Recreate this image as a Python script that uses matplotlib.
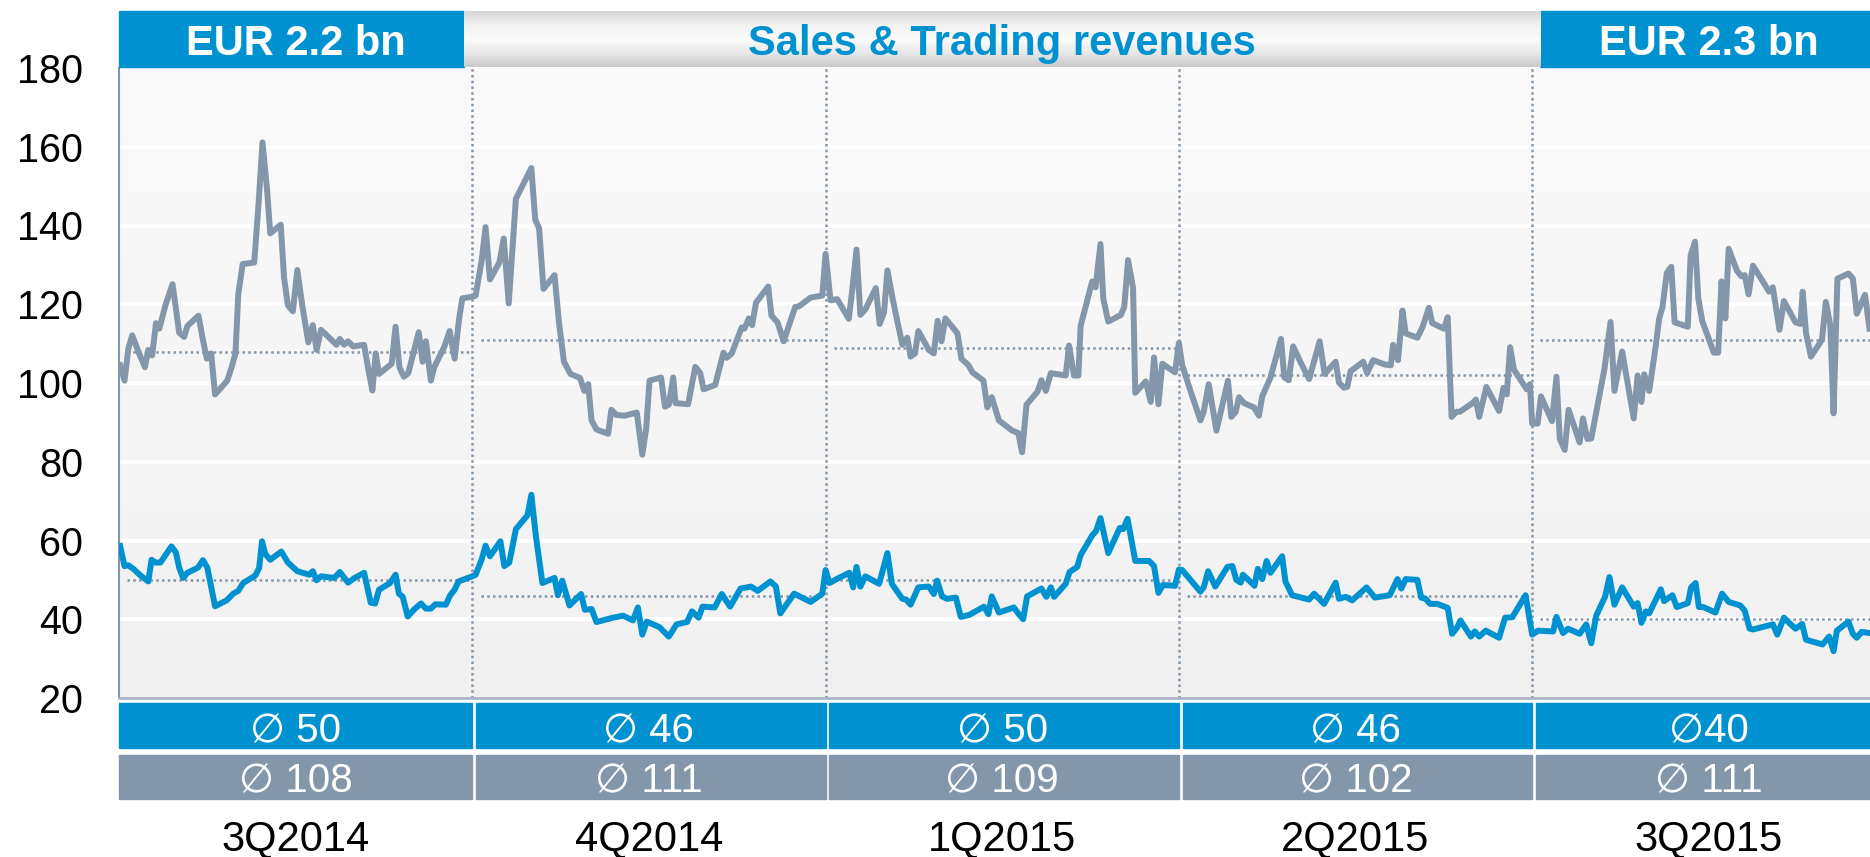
import numpy as np
import matplotlib
matplotlib.use('Agg')
import matplotlib.pyplot as plt
from matplotlib.patches import Rectangle
from matplotlib.transforms import blended_transform_factory
from matplotlib.colors import LinearSegmentedColormap

plt.rcParams['font.family'] = ['Liberation Sans', 'DejaVu Sans']

# quarters shown, with the quarterly averages
quarters = ['3Q2014', '4Q2014', '1Q2015', '2Q2015', '3Q2015']
blue_avg = [50, 46, 50, 46, 40]
grey_avg = [108, 111, 109, 102, 111]
blue_labels = ['\u2205 50', '\u2205 46', '\u2205 50', '\u2205 46', '\u220540']
grey_labels = ['\u2205 108', '\u2205 111', '\u2205 109', '\u2205 102', '\u2205 111']
banner_left = 'EUR 2.2 bn'
banner_mid = 'Sales & Trading revenues'
banner_right = 'EUR 2.3 bn'

# daily values, day = trading day inside the quarter (64 per quarter)
grey_q1_day = [0.2, 1.0, 1.7, 2.4, 3.5, 4.7, 5.3, 6.0, 6.7, 7.3, 8.4, 9.7, 10.9, 11.8, 12.4, 14.4, 15.2, 15.9, 16.7, 17.4,
               18.5, 19.6, 20.4, 21.1, 21.6, 22.4, 24.5, 25.3, 26.0, 26.8, 27.4, 29.3, 29.9, 30.6, 31.5, 32.3, 33.2, 34.3,
               35.1, 35.8, 36.6, 37.8, 39.4, 40.0, 40.8, 41.5, 42.4, 44.4, 45.2, 45.9, 46.5, 47.1, 47.9, 49.4, 50.1, 50.8,
               51.6, 52.4, 54.3, 55.0, 55.6, 56.5, 57.1, 58.9, 59.9, 60.8, 61.6, 62.2]
grey_q1_val = [104.5, 100.6, 108.8, 112.1, 108.0, 104.0, 108.4, 107.0, 115.2, 113.8, 119.7, 125.1, 112.8, 111.7, 114.5,
               117.1, 111.0, 106.2, 107.5, 97.1, 98.8, 100.6, 104.0, 107.5, 122.4, 130.2, 130.6, 145.9, 161.1, 149.4,
               138.0, 140.2, 126.7, 119.7, 118.2, 128.7, 119.7, 110.3, 114.7, 108.4, 113.5, 111.9, 109.7, 111.2, 109.7,
               110.6, 109.3, 109.7, 103.2, 98.1, 107.5, 102.3, 103.2, 104.9, 114.3, 104.0, 101.6, 102.5, 112.9, 105.4,
               110.6, 100.6, 104.0, 109.1, 113.2, 106.2, 116.2, 121.5]
grey_q2_day = [0, 0.6, 1.7, 2.4, 3.2, 4.9, 5.7, 6.6, 7.9, 10.7, 11.4, 12.1, 12.9, 14.9, 15.7, 16.6, 17.8, 19.5, 20.3, 21.0,
               21.6, 22.5, 24.6, 25.2, 26.1, 27.6, 29.8, 30.8, 31.5, 32.1, 34.2, 34.9, 35.6, 36.4, 36.8, 39.1, 40.4, 41.3,
               41.9, 44.0, 45.5, 46.1, 47.0, 48.8, 49.3, 50.1, 50.7, 51.4, 53.6, 54.2, 55.3, 56.4, 58.5, 59.2, 61.3, 63.4]
grey_q2_val = [121.9, 122.2, 131.1, 139.6, 126.3, 130.6, 136.7, 120.2, 146.8, 154.6, 141.5, 139.3, 123.9, 127.4, 115.4,
               105.4, 102.3, 101.3, 98.0, 99.7, 90.5, 88.2, 87.1, 93.2, 91.9, 91.7, 92.5, 81.8, 88.4, 100.6, 101.4, 94.0,
               94.5, 101.4, 94.9, 94.6, 104.1, 102.5, 98.4, 99.5, 107.7, 106.4, 107.5, 114.1, 113.8, 116.4, 114.7, 120.4,
               124.5, 117.1, 115.4, 110.6, 119.3, 119.5, 121.7, 122.2]
grey_q3_day = [0, 0.9, 2.1, 4.2, 4.8, 5.6, 6.3, 7.2, 9.1, 9.8, 10.6, 11.2, 12.2, 13.9, 14.8, 15.4, 16.2, 16.8, 18.7, 19.6,
               20.3, 21.0, 21.7, 23.9, 24.6, 25.9, 26.6, 28.6, 29.3, 30.1, 31.4, 33.8, 34.9, 35.6, 36.4, 38.4, 39.1, 39.9,
               40.8, 43.5, 44.1, 45.0, 45.8, 46.2, 48.3, 48.9, 49.8, 50.3, 51.2, 53.5, 54.1, 54.8, 55.7, 56.1, 58.0, 58.9,
               59.5, 60.3, 61.0, 63.3]
grey_q3_val = [132.8, 121.0, 121.3, 116.3, 123.2, 133.9, 117.3, 118.7, 124.1, 115.0, 118.0, 128.6, 121.0, 109.7, 111.5,
               106.7, 107.5, 113.2, 108.4, 107.5, 115.8, 110.6, 116.4, 112.6, 106.2, 104.5, 102.7, 100.6, 93.8, 96.4,
               90.5, 87.9, 87.3, 82.4, 94.5, 97.8, 100.7, 98.0, 102.5, 101.9, 109.5, 101.9, 101.9, 114.5, 125.8, 124.3,
               135.3, 121.5, 115.6, 117.3, 119.3, 131.2, 124.1, 97.5, 100.4, 95.2, 106.5, 94.6, 104.9, 102.7]
grey_q4_day = [0, 0.6, 2.1, 3.9, 4.5, 5.4, 6.8, 8.9, 9.5, 10.3, 10.9, 11.8, 13.6, 14.5, 15.1, 16.6, 18.5, 19.1, 19.9, 20.7,
               22.0, 23.6, 25.5, 26.4, 28.4, 29.0, 29.9, 30.5, 31.1, 33.4, 34.1, 35.2, 37.3, 38.4, 38.8, 39.7, 40.5, 41.1,
               43.2, 44.1, 45.3, 45.9, 48.0, 48.7, 49.4, 50.3, 50.9, 53.2, 53.8, 54.4, 55.7, 58.0, 58.8, 59.4, 60.0, 60.7,
               63.0, 63.6]
grey_q4_val = [110.2, 104.5, 98.0, 90.5, 92.7, 99.7, 87.9, 100.6, 91.4, 92.7, 96.4, 94.9, 93.8, 91.7, 96.6, 101.4, 111.2,
               101.4, 100.7, 109.3, 105.4, 101.0, 110.6, 102.3, 105.4, 100.1, 98.8, 99.0, 103.0, 105.4, 102.5, 105.8,
               104.7, 104.5, 109.7, 105.8, 118.4, 112.6, 111.5, 114.1, 119.1, 115.2, 113.8, 116.7, 91.4, 92.7, 92.7, 94.9,
               95.8, 91.4, 99.0, 92.9, 98.8, 97.1, 109.1, 103.4, 98.4, 99.7]
grey_q5_day = [0, 1.0, 1.6, 3.6, 4.4, 5.0, 5.9, 6.6, 8.6, 9.2, 10.0, 10.7, 13.1, 14.2, 14.9, 16.3, 18.4, 19.1, 19.8, 20.3,
               21.2, 22.4, 23.0, 23.6, 24.4, 25.2, 25.8, 28.2, 28.7, 29.5, 30.1, 30.8, 32.9, 33.7, 34.3, 35.0, 35.6, 37.1,
               37.9, 38.5, 39.2, 40.0, 42.1, 42.9, 43.6, 44.8, 45.6, 47.7, 48.6, 49.0, 49.6, 50.5, 52.5, 53.2, 54.0, 54.6,
               55.3, 57.3, 58.1, 58.8, 60.3, 61.1]
grey_q5_val = [89.7, 89.7, 96.6, 90.3, 101.6, 85.8, 83.0, 93.2, 84.9, 91.0, 85.8, 85.9, 103.6, 115.5, 98.0, 108.0, 91.0,
               101.9, 95.2, 102.2, 98.0, 109.5, 116.3, 119.3, 128.0, 129.5, 115.4, 114.3, 132.4, 135.9, 121.5, 115.8,
               107.7, 107.7, 125.8, 116.4, 134.1, 128.5, 127.1, 127.4, 122.5, 129.8, 125.1, 123.2, 124.3, 113.5, 120.8,
               115.4, 115.0, 123.2, 112.8, 106.7, 111.0, 120.6, 114.7, 92.3, 126.5, 127.8, 126.5, 117.6, 122.4, 113.8]

blue_q1_day = [0.2, 1.0, 1.7, 2.6, 3.9, 5.3, 5.9, 6.6, 7.5, 9.5, 10.3, 10.9, 11.6, 12.4, 14.3, 15.2, 16.0, 17.4, 19.5, 20.7,
               21.6, 22.5, 24.7, 25.4, 25.9, 26.5, 27.4, 29.4, 30.6, 32.3, 34.5, 35.1, 35.8, 36.6, 39.0, 40.0, 41.5, 42.7,
               44.4, 45.6, 46.4, 47.1, 49.1, 50.1, 50.7, 51.4, 52.3, 53.4, 54.7, 55.6, 56.5, 57.3, 59.2, 60.0, 60.8, 61.5]
blue_q1_val = [58.6, 53.5, 53.7, 52.8, 51.1, 49.6, 55.1, 54.4, 54.4, 58.5, 57.0, 53.1, 50.5, 51.8, 53.1, 55.0, 53.1, 43.3,
               44.8, 46.5, 47.2, 49.2, 51.1, 53.1, 59.8, 56.6, 55.1, 57.2, 54.4, 52.2, 51.3, 52.2, 49.9, 50.9, 50.5, 52.0,
               49.3, 50.5, 51.8, 44.2, 44.0, 47.5, 49.2, 51.3, 46.5, 45.7, 40.7, 42.4, 44.0, 42.7, 42.7, 43.8, 43.7, 46.1,
               47.5, 49.6]
blue_q2_day = [0, 0.6, 1.7, 2.4, 3.2, 5.1, 5.8, 6.7, 7.9, 10.0, 10.7, 11.5, 12.7, 14.9, 15.5, 16.3, 17.6, 19.7, 20.4, 21.6,
               22.5, 25.5, 27.3, 29.1, 30.0, 30.8, 31.6, 33.9, 35.6, 37.0, 38.9, 39.8, 41.0, 41.7, 43.9, 45.2, 46.7, 48.6,
               50.5, 51.7, 54.0, 55.0, 55.8, 58.3, 61.3, 63.4]
blue_q2_val = [50.9, 51.3, 55.2, 58.7, 56.0, 59.8, 53.5, 54.4, 62.9, 66.4, 71.6, 61.3, 49.2, 50.5, 46.1, 49.8, 43.5, 46.4,
               42.4, 42.6, 39.3, 40.4, 40.9, 39.7, 43.0, 36.1, 39.4, 38.0, 35.6, 38.7, 39.3, 42.0, 40.4, 43.2, 43.0, 46.4,
               43.2, 47.8, 48.3, 47.2, 49.6, 48.3, 41.5, 46.5, 44.4, 46.5]
blue_q3_day = [0, 0.7, 2.4, 4.3, 5.0, 5.6, 6.3, 7.2, 9.7, 11.2, 12.0, 13.9, 14.6, 15.4, 16.8, 18.7, 19.6, 20.2, 21.1, 22.0,
               23.6, 24.5, 26.0, 28.7, 29.5, 30.1, 31.4, 34.1, 35.0, 35.8, 36.5, 39.1, 40.0, 40.8, 41.4, 43.5, 44.2, 45.6,
               46.2, 48.3, 49.0, 49.8, 51.2, 53.3, 53.9, 54.7, 56.1, 58.6, 59.5, 60.3, 61.1, 63.3]
blue_q3_val = [52.5, 49.2, 50.5, 51.8, 48.1, 53.3, 48.3, 50.9, 49.0, 56.8, 49.0, 45.2, 45.0, 43.7, 48.1, 48.3, 46.4, 49.8,
               45.8, 45.2, 45.5, 40.6, 41.1, 43.2, 41.3, 45.8, 41.7, 43.0, 41.3, 40.0, 45.8, 47.8, 45.7, 48.1, 45.7, 49.0,
               52.0, 53.3, 56.3, 61.3, 62.4, 65.7, 56.8, 63.2, 62.9, 65.5, 54.8, 54.8, 53.5, 46.7, 48.7, 48.5]
blue_q4_day = [0, 0.6, 3.9, 4.5, 5.3, 6.6, 8.8, 9.7, 10.4, 11.2, 11.6, 13.7, 14.3, 15.1, 15.9, 16.6, 18.7, 19.3, 20.5, 23.6,
               24.5, 26.3, 28.4, 29.0, 30.2, 31.4, 34.0, 35.5, 38.2, 39.6, 40.3, 41.1, 43.2, 43.9, 44.7, 45.5, 46.8, 48.7,
               49.5, 50.4, 51.0, 52.9, 53.6, 54.4, 55.6, 58.0, 59.1, 60.4, 62.8]
blue_q4_val = [52.6, 52.5, 47.0, 48.1, 52.2, 48.3, 53.3, 53.5, 50.0, 49.3, 51.3, 48.5, 52.8, 50.2, 54.8, 51.8, 56.0, 49.6,
               46.1, 45.0, 46.5, 43.9, 49.3, 45.2, 45.7, 44.8, 48.1, 45.5, 46.1, 50.2, 47.8, 50.2, 50.0, 45.5, 45.2, 43.9,
               43.9, 42.9, 36.3, 37.9, 39.7, 35.6, 36.9, 35.6, 37.1, 35.3, 40.4, 40.5, 46.1]
blue_q5_day = [0, 1.1, 3.8, 4.4, 5.6, 6.5, 8.6, 9.8, 10.7, 11.6, 13.2, 14.0, 14.9, 16.3, 18.4, 19.1, 19.8, 20.6, 21.2, 23.3,
               23.9, 25.4, 26.2, 28.2, 28.8, 29.6, 30.2, 31.0, 33.2, 34.4, 35.6, 37.7, 38.5, 39.4, 40.0, 43.6, 44.4, 45.6,
               46.3, 47.7, 48.9, 49.6, 52.6, 53.8, 54.6, 55.2, 57.3, 58.1, 58.8, 59.7, 61.1]
blue_q5_val = [36.1, 37.1, 36.9, 40.6, 36.5, 37.6, 36.3, 38.7, 33.9, 40.9, 45.7, 50.7, 43.7, 48.1, 43.2, 44.1, 39.1, 42.0,
               41.5, 47.6, 44.6, 46.1, 43.1, 44.1, 48.1, 49.2, 43.1, 43.1, 41.7, 46.5, 44.4, 43.5, 42.2, 37.6, 37.4, 38.7,
               36.1, 40.4, 39.4, 37.6, 38.8, 34.8, 33.6, 35.6, 31.9, 37.1, 39.4, 36.3, 35.3, 36.8, 36.5]

QLEN = 64        # trading days per quarter
LAST_DAYS = 61.2  # part of 3Q2015 that is visible

BLUE = '#0092d0'
GREY = '#8497aa'

grey_days = [grey_q1_day, grey_q2_day, grey_q3_day, grey_q4_day, grey_q5_day]
grey_vals = [grey_q1_val, grey_q2_val, grey_q3_val, grey_q4_val, grey_q5_val]
blue_days = [blue_q1_day, blue_q2_day, blue_q3_day, blue_q4_day, blue_q5_day]
blue_vals = [blue_q1_val, blue_q2_val, blue_q3_val, blue_q4_val, blue_q5_val]

gx = np.concatenate([np.array(d) + i * QLEN for i, d in enumerate(grey_days)])
gy = np.concatenate(grey_vals)
bx = np.concatenate([np.array(d) + i * QLEN for i, d in enumerate(blue_days)])
by = np.concatenate(blue_vals)

x_end = (len(quarters) - 1) * QLEN + LAST_DAYS

fig = plt.figure(figsize=(18.7, 8.57), dpi=100)
ax = fig.add_axes([119 / 1870, 159 / 857, 1 - 119 / 1870, 630 / 857])

# plot background, light grey gradient
bg = LinearSegmentedColormap.from_list('bg', ['#f0f0f0', '#fafafa'])
ax.imshow(np.linspace(0, 1, 256).reshape(-1, 1), cmap=bg, extent=[0, 1, 0, 1],
          transform=ax.transAxes, aspect='auto', origin='lower', zorder=0)

for y in range(40, 180, 20):
    ax.axhline(y, color='white', lw=3, zorder=1)

dots = (0, (1, 1.3))
for q in range(1, len(quarters)):
    ax.axvline(q * QLEN, color=GREY, lw=1.8, ls=dots, zorder=2)
for q in range(len(quarters)):
    hi = min((q + 1) * QLEN, x_end)
    ax.hlines(grey_avg[q], q * QLEN + 1.5, hi, color=GREY, lw=1.8, ls=dots, zorder=2)
    ax.hlines(blue_avg[q], q * QLEN + 1.5, hi, color=GREY, lw=1.8, ls=dots, zorder=2)

ax.plot(gx, gy, color=GREY, lw=4.3, zorder=3)
ax.plot(bx, by, color=BLUE, lw=4.3, zorder=3)

ax.set_xlim(0, x_end)
ax.set_ylim(20, 180)
ax.set_yticks(range(20, 181, 20))
ax.set_xticks([])
ax.tick_params(axis='y', length=0, pad=26, labelsize=28.5, labelcolor='black')
for s in ['top', 'right']:
    ax.spines[s].set_visible(False)
ax.spines['left'].set_color(GREY)
ax.spines['left'].set_linewidth(1.5)
ax.spines['bottom'].set_color('#a9b5c2')
ax.spines['bottom'].set_linewidth(2)

# boxes under the plot with the quarterly averages
tr = blended_transform_factory(ax.transData, fig.transFigure)
for q, name in enumerate(quarters):
    lo = q * QLEN + (0.7 if q else 0)
    hi = (q + 1) * QLEN if q < len(quarters) - 1 else x_end
    ax.add_patch(Rectangle((lo, 0.1267), hi - lo, 0.0525, transform=tr, color=BLUE, clip_on=False, zorder=5))
    ax.add_patch(Rectangle((lo, 0.0680), hi - lo, 0.0510, transform=tr, color=GREY, clip_on=False, zorder=5))
    mid = q * QLEN + QLEN / 2
    ax.text(mid, 0.1342, blue_labels[q], transform=tr, ha='center', va='baseline',
            color='white', fontsize=29, zorder=6)
    ax.text(mid, 0.0758, grey_labels[q], transform=tr, ha='center', va='baseline',
            color='white', fontsize=29, zorder=6)
    ax.text(mid, 0.0078, name, transform=tr, ha='center', va='baseline', color='black', fontsize=30)

# banners above the plot
b_lo, b_hi = 0.9222, 0.9872
left_end = QLEN - 1.5
right_start = (len(quarters) - 1) * QLEN + 1.5
ax.add_patch(Rectangle((0, b_lo), left_end, b_hi - b_lo, transform=tr, color=BLUE, clip_on=False, zorder=5))
ax.add_patch(Rectangle((right_start, b_lo), x_end - right_start, b_hi - b_lo, transform=tr,
                       color=BLUE, clip_on=False, zorder=5))
shade = LinearSegmentedColormap.from_list('shade', ['#c8c8c8', '#e8e8e8', '#fcfcfc', '#f2f2f2', '#d6d6d6'])
ax.imshow(np.linspace(0, 1, 128).reshape(-1, 1), cmap=shade, extent=[left_end, right_start, b_lo, b_hi],
          transform=tr, aspect='auto', origin='lower', clip_on=False, zorder=5)
ax.text(QLEN / 2, 0.9358, banner_left, transform=tr, ha='center', va='baseline',
        color='white', fontsize=30, fontweight='bold', zorder=6)
ax.text((left_end + right_start) / 2, 0.9358, banner_mid, transform=tr, ha='center', va='baseline',
        color=BLUE, fontsize=30, fontweight='bold', zorder=6)
ax.text((len(quarters) - 1) * QLEN + QLEN / 2, 0.9358, banner_right, transform=tr, ha='center', va='baseline',
        color='white', fontsize=30, fontweight='bold', zorder=6)

ax.set_xlim(0, x_end)
ax.set_ylim(20, 180)

fig.savefig('out.png', dpi=100)
